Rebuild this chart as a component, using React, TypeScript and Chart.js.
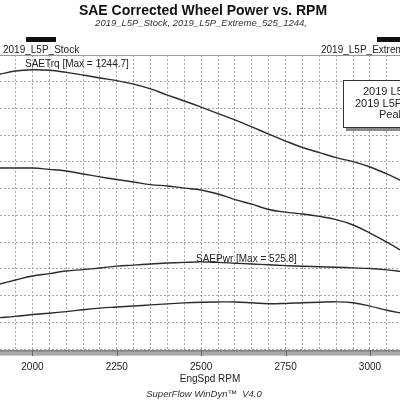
import { useEffect, useRef } from "react";
import { Chart, registerables } from "chart.js";

Chart.register(...registerables);

// ---- data ----
const rpm = [1900, 1950, 2000, 2050, 2100, 2150, 2200, 2250, 2300, 2350, 2400, 2450, 2500,
  2550, 2600, 2650, 2700, 2750, 2800, 2850, 2900, 2950, 3000, 3050, 3100];
const extremeTrq = [1227, 1240, 1244.7, 1243, 1235, 1225, 1214, 1204, 1191, 1173, 1150, 1128, 1105,
  1081, 1057, 1031, 1004, 978, 954, 935, 916, 901, 881, 855, 825];
const stockTrq = [877, 877, 877, 872, 866, 855, 844, 834, 825, 815, 810, 802, 795,
  780, 759, 742, 722, 712, 705, 696, 684, 664, 634, 600, 563];
const extremePwr = [442, 458, 473, 482, 492, 497, 503, 510, 514, 518, 521.5, 524, 525.8,
  524, 521, 518, 515, 512, 509.5, 508, 506, 503.5, 501, 496, 489];
const stockPwr = [317, 322, 329, 334, 340, 347, 353, 357, 361, 365, 369, 372.5, 375,
  376, 376, 373, 369.5, 370.5, 373, 375, 376.5, 373, 360.5, 345, 333];

const xTickLabels = [2000, 2250, 2500, 2750, 3000];
const xGridStep = 50;
const xMin = 1904;
const xMax = 3089;
const yMin = 200;
const yMax = 1300;
const yStep = 100;

const titleText = "SAE Corrected Wheel Power vs. RPM";
const subtitleText = "2019_L5P_Stock, 2019_L5P_Extreme_525_1244,";
const runNames = ["2019_L5P_Stock", "2019_L5P_Extreme_525_1244"];
const legendLines = ["2019 L5P_Stock", "2019 L5P_Extreme", "Peak Values"];
const xAxisTitle = "EngSpd RPM";
const footerText = "SuperFlow WinDyn\u2122  V4.0";

const FONT = "'Liberation Sans', Arial, sans-serif";
const LINE = "#2b2b2b";

const overlay = {
  id: "overlay",
  afterDraw(chart: any) {
    const ctx = chart.ctx as CanvasRenderingContext2D;
    const area = chart.chartArea;
    const xs = chart.scales.x;
    ctx.save();

    // top border
    ctx.strokeStyle = "#9a9a9a";
    ctx.lineWidth = 1;
    ctx.beginPath();
    ctx.moveTo(area.left, area.top + 0.5);
    ctx.lineTo(area.right, area.top + 0.5);
    ctx.stroke();

    // bottom axis band
    ctx.fillStyle = "#a8a8a8";
    ctx.fillRect(area.left, area.bottom + 1, area.right - area.left, 6);
    ctx.fillStyle = "#808080";
    ctx.fillRect(area.left, area.bottom + 1, area.right - area.left, 1.5);
    ctx.fillStyle = "#c8c8c8";
    ctx.fillRect(area.left, area.bottom + 6, area.right - area.left, 1);
    ctx.strokeStyle = "#666";
    for (const v of xTickLabels) {
      const px = Math.round(xs.getPixelForValue(v)) + 0.5;
      ctx.beginPath();
      ctx.moveTo(px, area.bottom + 1);
      ctx.lineTo(px, area.bottom + 7);
      ctx.stroke();
    }

    // title & subtitle
    ctx.fillStyle = "#111";
    ctx.textAlign = "center";
    ctx.textBaseline = "alphabetic";
    ctx.font = `bold 14px ${FONT}`;
    ctx.fillText(titleText, 203, 15);
    ctx.fillStyle = "#333";
    ctx.font = `italic 9.5px ${FONT}`;
    ctx.fillText(subtitleText, 201, 25.5);

    // run names with black bars
    ctx.font = `10px ${FONT}`;
    ctx.fillStyle = "#222";
    ctx.textAlign = "left";
    ctx.fillText(runNames[0], 3, 53);
    ctx.fillText(runNames[1], 321, 53);
    ctx.fillStyle = "#111";
    ctx.fillRect(26, 37, 30, 5);
    ctx.fillRect(377, 37, 30, 5);

    // curve labels
    ctx.fillStyle = "#222";
    ctx.font = `10px ${FONT}`;
    ctx.fillText(`SAETrq [Max = ${Math.max(...extremeTrq).toFixed(1)}]`, 25, 67);
    ctx.fillText(`SAEPwr [Max = ${Math.max(...extremePwr).toFixed(1)}]`, 196, 261.5);

    // legend box
    ctx.fillStyle = "#8a8a8a";
    ctx.fillRect(346, 84, 80, 47);
    ctx.fillStyle = "#fff";
    ctx.fillRect(343, 80.5, 80, 47);
    ctx.strokeStyle = "#333";
    ctx.strokeRect(343.5, 80.5, 80, 47);
    ctx.fillStyle = "#222";
    ctx.font = `11px ${FONT}`;
    ctx.fillText(legendLines[0], 363, 95);
    ctx.fillText(legendLines[1], 355, 106.5);
    ctx.fillText(legendLines[2], 379, 118);

    // axis title and footer
    ctx.textAlign = "center";
    ctx.fillStyle = "#222";
    ctx.font = `10px ${FONT}`;
    ctx.fillText(xAxisTitle, 210, 382);
    ctx.fillStyle = "#333";
    ctx.font = `italic 9.5px ${FONT}`;
    ctx.fillText(footerText, 204, 397);

    ctx.restore();
  },
};

export default function App() {
  const ref = useRef<HTMLCanvasElement | null>(null);

  useEffect(() => {
    if (!ref.current) return;
    const mk = (label: string, vals: number[]) => ({
      label,
      data: rpm.map((r, i) => ({ x: r, y: vals[i] })),
      borderColor: LINE,
      borderWidth: 1.4,
      pointRadius: 0,
      tension: 0.4,
      fill: false,
    });
    const chart = new Chart(ref.current, {
      type: "line",
      data: {
        datasets: [
          mk("2019_L5P_Extreme SAETrq", extremeTrq),
          mk("2019_L5P_Stock SAETrq", stockTrq),
          mk("2019_L5P_Extreme SAEPwr", extremePwr),
          mk("2019_L5P_Stock SAEPwr", stockPwr),
        ],
      },
      options: {
        animation: false,
        responsive: false,
        maintainAspectRatio: false,
        devicePixelRatio: 1,
        layout: { padding: { top: 55, left: 0, right: 0, bottom: 0 } },
        plugins: {
          legend: { display: false },
          tooltip: { enabled: false },
          title: { display: false },
        },
        scales: {
          x: {
            type: "linear",
            min: xMin,
            max: xMax,
            afterBuildTicks: (s: any) => {
              const t: any[] = [];
              for (let v = Math.ceil(xMin / xGridStep) * xGridStep; v <= xMax; v += xGridStep) t.push({ value: v });
              s.ticks = t;
            },
            afterFit: (s: any) => {
              s.height = 51;
            },
            ticks: {
              autoSkip: false,
              maxRotation: 0,
              padding: 12,
              color: "#222",
              font: { family: FONT, size: 10 },
              callback: (v: any) => (xTickLabels.includes(Number(v)) ? String(v) : ""),
            },
            grid: { color: "#a8a8a8", drawTicks: false, lineWidth: 1 },
            border: { display: false, dash: [2, 2] },
          },
          y: {
            type: "linear",
            min: yMin,
            max: yMax,
            ticks: { display: false, stepSize: yStep },
            afterFit: (s: any) => {
              s.width = 0;
            },
            grid: { color: "#a8a8a8", drawTicks: false, lineWidth: 1 },
            border: { display: false, dash: [2, 2] },
          },
        },
      },
      plugins: [overlay],
    });
    return () => chart.destroy();
  }, []);

  return (
    <div style={{ position: "fixed", left: 0, top: 0, width: 400, height: 400, background: "#fff" }}>
      <canvas ref={ref} width={400} height={400} style={{ width: 400, height: 400, display: "block" }} />
    </div>
  );
}
